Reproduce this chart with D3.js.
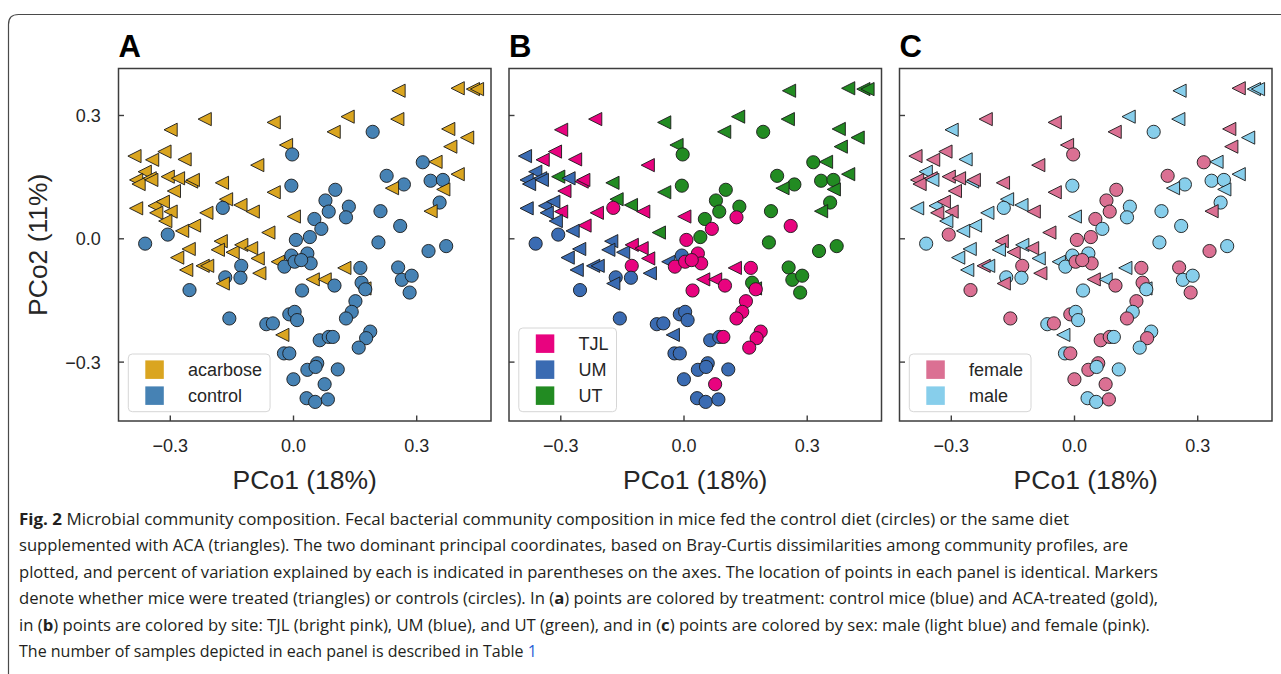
<!DOCTYPE html>
<html><head><meta charset="utf-8">
<script src="https://cdn.jsdelivr.net/npm/d3@7"></script>
<style>body{margin:0;background:#fff}</style>
</head><body>
<svg id="c" width="1281" height="674"></svg>
<script>
// ---------- data ----------
const treatmentCats = ["acarbose", "control"];
const siteCats = ["TJL", "UM", "UT"];
const sexCats = ["female", "male"];
const xTicks = [-0.3, 0.0, 0.3];
const yTicks = [-0.3, 0.0, 0.3];
const tickLabels = ["\u22120.3", "0.0", "0.3"];
const panelLetters = ["A", "B", "C"];
const xLabel = "PCo1 (18%)";
const yLabel = "PCo2 (11%)";

const pc1 = [-0.215,-0.298,-0.047,-0.017,-0.002,-0.386,-0.313,-0.343,-0.264,-0.087,
-0.361,-0.382,-0.376,-0.349,-0.345,-0.305,-0.280,-0.248,-0.244,-0.173,
-0.004,-0.290,-0.047,-0.382,-0.337,-0.317,-0.333,-0.298,-0.163,-0.171,
-0.128,-0.098,-0.211,0.002,-0.311,-0.241,-0.270,-0.305,-0.360,-0.060,
0.007,0.041,0.257,0.401,0.438,0.448,0.133,0.254,0.099,0.194,
0.378,0.424,0.383,0.316,0.347,0.228,0.270,0.241,0.335,0.365,
0.366,0.401,0.357,0.335,0.103,0.079,0.087,0.136,0.129,0.052,
0.069,0.213,0.261,0.208,0.330,0.373,-0.254,-0.282,-0.260,-0.220,
-0.209,-0.176,-0.183,-0.147,-0.126,-0.102,-0.086,-0.126,-0.165,-0.171,
-0.128,-0.082,-0.252,-0.037,-0.004,-0.021,0.004,0.035,0.022,-0.155,
-0.065,-0.049,-0.009,0.004,0.010,-0.026,-0.022,-0.009,0.001,0.035,
0.033,0.043,0.020,0.125,0.164,0.048,0.077,0.101,0.174,0.167,
0.176,0.256,0.265,0.289,0.284,0.152,0.143,0.129,0.188,0.178,
0.160,0.065,0.087,0.097,0.059,0.055,0.109,0.077,0.054,0.085];

const pc2 = [0.290,0.264,0.282,0.227,0.204,0.200,0.211,0.191,0.192,0.178,
0.162,0.142,0.132,0.146,0.142,0.150,0.146,0.138,0.142,0.135,
0.128,0.115,0.112,0.073,0.079,0.089,0.062,0.065,0.095,0.074,
0.081,0.065,0.062,0.053,0.042,0.031,0.018,0.009,-0.013,0.014,
-0.004,0.003,0.359,0.365,0.363,0.363,0.296,0.290,0.259,0.259,
0.266,0.245,0.223,0.185,0.186,0.152,0.131,0.122,0.140,0.142,
0.119,0.156,0.087,0.066,0.118,0.092,0.065,0.077,0.051,0.047,
0.023,0.066,0.030,-0.010,-0.031,-0.019,-0.026,-0.047,-0.077,-0.067,
-0.067,-0.007,-0.028,-0.034,-0.016,-0.024,-0.049,-0.067,-0.095,-0.110,
-0.096,-0.085,-0.126,-0.057,-0.042,-0.069,-0.057,-0.037,-0.127,-0.195,
-0.209,-0.207,-0.185,-0.179,-0.199,-0.235,-0.280,-0.280,-0.343,-0.320,
-0.389,-0.061,-0.053,-0.072,-0.072,-0.100,-0.100,-0.115,-0.122,-0.108,
-0.124,-0.071,-0.101,-0.091,-0.132,-0.153,-0.179,-0.195,-0.227,-0.243,
-0.266,-0.248,-0.240,-0.240,-0.304,-0.313,-0.319,-0.355,-0.398,-0.392];

// 0 = acarbose (triangle), 1 = control (circle)
const treatment = [0,0,0,0,1,0,0,0,0,0, 0,0,0,0,0,0,0,0,0,0,
1,0,0,0,0,0,0,0,0,1, 0,0,0,0,0,0,0,1,1,0,
1,1,0,0,0,0,0,0,0,1, 0,0,0,1,0,1,1,0,1,1,
0,0,1,0,1,1,1,1,1,1, 1,1,1,1,1,1,0,0,0,0,
0,0,0,0,0,0,0,1,1,0, 1,0,1,0,1,1,1,1,1,1,
1,1,1,1,1,0,1,1,1,1, 1,1,1,0,1,0,0,1,0,1,
1,1,1,1,1,1,1,1,1,1, 1,1,1,1,1,1,1,1,1,1];

// 0 = TJL, 1 = UM, 2 = UT
const site = [0,0,2,2,2,1,0,0,0,0, 1,1,1,1,1,2,1,0,0,2,
2,0,2,1,1,1,1,0,2,0, 2,0,0,0,1,0,1,1,1,2,
0,2,2,2,2,2,2,2,2,2, 2,2,2,2,2,2,2,2,2,2,
2,2,2,2,2,2,2,2,0,2, 0,2,0,2,2,2,1,1,1,1,
1,1,1,1,0,0,0,0,1,1, 1,1,1,1,1,0,0,0,0,1,
1,1,1,1,1,1,1,1,1,1, 1,0,0,0,0,0,0,0,2,2,
0,2,2,2,2,0,0,0,0,0, 0,1,1,0,1,1,1,0,1,1];

// 0 = female, 1 = male
const sex = [0,1,0,0,0,0,0,0,1,0, 1,0,0,0,1,0,0,1,0,0,
1,0,0,1,1,0,0,0,1,1, 1,0,1,1,1,1,1,0,1,0,
0,0,1,0,1,1,1,1,0,1, 0,1,0,0,1,0,1,1,1,1,
1,1,1,0,0,0,0,1,1,0, 1,1,1,1,0,1,1,1,1,0,
1,0,1,0,1,0,1,0,1,0, 1,0,0,1,1,1,0,1,1,0,
1,0,0,1,1,1,1,0,0,0, 1,0,0,1,0,0,1,0,1,0,
1,0,1,1,0,0,1,0,1,0, 1,0,0,1,0,1,1,0,1,0];

const captionLines = [
  [["Fig. 2", "b"], [" Microbial community composition. Fecal bacterial community composition in mice fed the control diet (circles) or the same diet", ""]],
  [["supplemented with ACA (triangles). The two dominant principal coordinates, based on Bray-Curtis dissimilarities among community profiles, are", ""]],
  [["plotted, and percent of variation explained by each is indicated in parentheses on the axes. The location of points in each panel is identical. Markers", ""]],
  [["denote whether mice were treated (triangles) or controls (circles). In (", ""], ["a", "b"], [") points are colored by treatment: control mice (blue) and ACA-treated (gold),", ""]],
  [["in (", ""], ["b", "b"], [") points are colored by site: TJL (bright pink), UM (blue), and UT (green), and in (", ""], ["c", "b"], [") points are colored by sex: male (light blue) and female (pink).", ""]],
  [["The number of samples depicted in each panel is described in Table ", ""], ["1", "l"]]
];
const captionWidths = [1050, 1109, 1139, 1139, 1131, null];

// ---------- layout ----------
const svg = d3.select("#c");
const W = 1281, H = 674;
const panelX = [118.5, 509, 899.5], panelY = 68.5, panelW = 372.5, panelH = 352.5;
const FONT = "'Liberation Sans', Arial, Helvetica, sans-serif";
const txt = "#262626";

// border
svg.append("path")
  .attr("d", `M8.5,${H} L8.5,24.5 Q8.5,14.5 18.5,14.5 L${W},14.5`)
  .attr("fill", "none").attr("stroke", "#4a4a4a").attr("stroke-width", 1.2);

const x = d3.scaleLinear().domain([-0.4249, 0.4821]).range([0, panelW]);
const y = d3.scaleLinear().domain([-0.4445, 0.4131]).range([panelH, 0]);

const palettes = [
  { cats: treatmentCats, key: treatment, colors: ["#DAA520", "#4682B4"] },
  { cats: siteCats, key: site, colors: ["#E8037F", "#3A6BB2", "#228B22"] },
  { cats: sexCats, key: sex, colors: ["#DB7093", "#87CEEB"] }
];

const data = pc1.map((v, i) => ({ x: v, y: pc2[i], t: treatment[i], s: site[i], g: sex[i], k: i }));
const S = 6.6;
const triPath = `M${-S},0L${S},${-S}L${S},${S}Z`;

palettes.forEach((pal, p) => {
  const g = svg.append("g").attr("transform", `translate(${panelX[p]},${panelY})`);

  // points
  const pts = g.append("g");
  data.forEach(d => {
    const col = pal.colors[pal.key[d.k]];
    if (d.t === 0) {
      pts.append("path").attr("d", triPath)
        .attr("transform", `translate(${x(d.x)},${y(d.y)})`)
        .attr("fill", col).attr("stroke", "#1a1a1a").attr("stroke-width", 0.9);
    } else {
      pts.append("circle").attr("cx", x(d.x)).attr("cy", y(d.y)).attr("r", S)
        .attr("fill", col).attr("stroke", "#1a1a1a").attr("stroke-width", 0.9);
    }
  });

  // axes
  const xa = g.append("g").attr("transform", `translate(0,${panelH})`)
    .call(d3.axisBottom(x).tickValues(xTicks).tickSize(-5.5).tickFormat((d, i) => tickLabels[i]));
  xa.select(".domain").remove();
  xa.selectAll("line").attr("stroke", "#3d3d3d").attr("stroke-width", 1.4);
  xa.selectAll("text").attr("y", 30.7).attr("dy", null)
    .attr("font-family", FONT).attr("font-size", 18).attr("fill", txt);

  const ya = g.append("g")
    .call(d3.axisLeft(y).tickValues(yTicks).tickSize(-5.5).tickFormat((d, i) => p === 0 ? tickLabels[i] : ""));
  ya.select(".domain").remove();
  ya.selectAll("line").attr("stroke", "#3d3d3d").attr("stroke-width", 1.4);
  ya.selectAll("text").attr("x", -17.8).attr("dy", "0.37em")
    .attr("font-family", FONT).attr("font-size", 18).attr("fill", txt);

  // frame
  g.append("rect").attr("width", panelW).attr("height", panelH)
    .attr("fill", "none").attr("stroke", "#3d3d3d").attr("stroke-width", 1.5);

  // panel letter
  g.append("text").attr("x", 0).attr("y", -11.5).text(panelLetters[p])
    .attr("font-family", FONT).attr("font-weight", "bold").attr("font-size", 31).attr("fill", "#000");

  // x label
  g.append("text").attr("x", panelW / 2).attr("y", 488.5 - panelY).attr("text-anchor", "middle")
    .attr("font-family", FONT).attr("font-size", 26.5).attr("fill", txt).text(xLabel);

  // legend
  const n = pal.cats.length;
  const lg = g.append("g").attr("transform", `translate(9.8,${panelH - 9.3 - (26 * n + 5.7)})`);
  const box = lg.append("rect").attr("rx", 4).attr("ry", 4)
    .attr("height", 26 * n + 5.7).attr("fill", "#fff").attr("fill-opacity", 0.8)
    .attr("stroke", "#d6d6d6").attr("stroke-width", 1);
  let maxW = 0;
  pal.cats.forEach((c, i) => {
    const cy = 15.6 + 26 * i;
    lg.append("rect").attr("x", 17).attr("y", cy - 9.2).attr("width", 18.5).attr("height", 18.5)
      .attr("fill", pal.colors[i]);
    const t = lg.append("text").attr("x", 59.7).attr("y", cy + 6)
      .attr("font-family", FONT).attr("font-size", 18).attr("fill", txt).text(c);
    maxW = Math.max(maxW, t.node().getComputedTextLength());
  });
  box.attr("width", 59.7 + maxW + 8);
});

// y label
svg.append("text").attr("transform", `translate(47,${panelY + panelH / 2}) rotate(-90)`)
  .attr("text-anchor", "middle").attr("font-family", FONT).attr("font-size", 26.5)
  .attr("fill", txt).text(yLabel);

// caption
const CF = "'Open Sans', 'Noto Sans', sans-serif";
captionLines.forEach((parts, i) => {
  const t = svg.append("text").attr("x", 19).attr("y", 525 + 26.4 * i)
    .attr("font-family", CF).attr("font-size", 16).attr("fill", "#231f20");
  parts.forEach(([s, st]) => {
    const ts = t.append("tspan").text(s);
    if (st === "b") ts.attr("font-weight", "bold");
    if (st === "l") ts.attr("fill", "#2a5fd6");
  });
  if (captionWidths[i]) {
    t.attr("textLength", captionWidths[i]).attr("lengthAdjust", "spacingAndGlyphs");
  }
});
</script>
</body></html>
